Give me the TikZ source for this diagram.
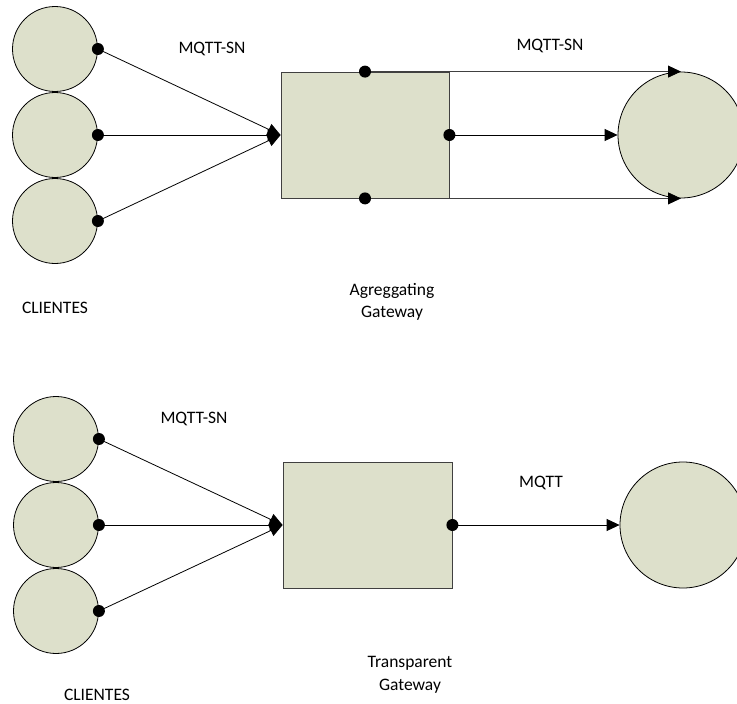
\documentclass[tikz,border=0pt]{standalone}
\usepackage{fontspec}
\setmainfont{Carlito}
\usepackage{tikz}
\usetikzlibrary{arrows.meta, shapes.geometric, positioning}
\definecolor{olivegrey}{RGB}{221,224,203}
\tikzstyle{client} = [circle, minimum size = 85pt, inner sep = 0pt, draw = black, line width = 0.8pt, fill = olivegrey]
\tikzstyle{server} = [circle, minimum size = 126pt, inner sep = 0pt, draw = black, line width = 0.8pt, fill = olivegrey]
\tikzstyle{gateway} = [rectangle, minimum width = 168pt, minimum height = 126pt, inner sep = 0pt, draw = black!75, line width = 0.8pt, fill = olivegrey]
\tikzstyle{lbl} = [font = \fontsize{17.5}{22.5}\selectfont, align = center, inner sep = 0pt]
\tikzstyle{arrow} = [line width = 0.8pt, -{Triangle[length = 13pt, width = 12pt, color = black]}]
\tikzstyle{dot} = [fill = black]

\begin{document}
\begin{tikzpicture} [x = 1pt, y = -1pt, node distance = 86pt]
\useasboundingbox (0,0) rectangle (737,704);

% aggregating gateway
\node (ca) [client] at (55,49) {};
\node (cb) [client, below of = ca] {};
\node (cc) [client, below of = cb] {};
\node (agg) [gateway] at (365,135) {};
\node (srva) [server] at (681,135) {};

\draw[arrow] (ca.east) -- (agg.west);
\draw[arrow] (cb.east) -- (agg.west);
\draw[arrow] (cc.east) -- (agg.west);
\draw[arrow, black!75] (agg.north) -- (srva.north);
\draw[arrow] (agg.east) -- (srva.west);
\draw[arrow, black!75] (agg.south) -- (srva.south);
\foreach \n in {ca.east, cb.east, cc.east, agg.north, agg.east, agg.south}
  \fill[dot] (\n) circle (6pt);

\node (mqttsna) [lbl] at (212,49) {MQTT-SN};
\node (mqttsnb) [lbl] at (550,46) {MQTT-SN};
\node (clientesa) [lbl] at (55,308) {CLIENTES};
\node (agglbl) [lbl] at (392,302) {Agreggating\\Gateway};

% transparent gateway
\node (cd) [client] at (56,439) {};
\node (ce) [client, below of = cd] {};
\node (cf) [client, below of = ce] {};
\node (tgw) [gateway, minimum width = 169pt] at (367.5,525) {};
\node (srvb) [server] at (683,525) {};

\draw[arrow] (cd.east) -- (tgw.west);
\draw[arrow] (ce.east) -- (tgw.west);
\draw[arrow] (cf.east) -- (tgw.west);
\draw[arrow] (tgw.east) -- (srvb.west);
\foreach \n in {cd.east, ce.east, cf.east, tgw.east}
  \fill[dot] (\n) circle (6pt);

\node (mqttsnc) [lbl] at (194,419) {MQTT-SN};
\node (mqtt) [lbl] at (541,483) {MQTT};
\node (clientesb) [lbl] at (97,695) {CLIENTES};
\node (tgwlbl) [lbl] at (410,675) {Transparent\\Gateway};
\end{tikzpicture}
\end{document}
